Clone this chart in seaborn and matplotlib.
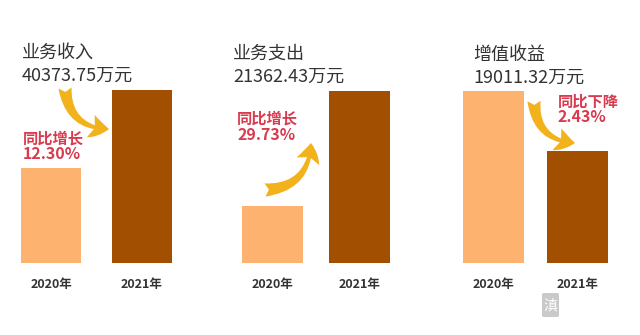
import matplotlib
matplotlib.use("Agg")
import matplotlib.pyplot as plt
import seaborn as sns
import pandas as pd
from matplotlib.patches import FancyArrowPatch, FancyBboxPatch

# ---- data ----
metrics = ["业务收入", "业务支出", "增值收益"]
totals = ["40373.75万元", "21362.43万元", "19011.32万元"]
change_labels = ["同比增长", "同比增长", "同比下降"]
change_values = ["12.30%", "29.73%", "2.43%"]
years = ["2020年", "2021年"]
bar_2020 = [95, 57, 172]   # relative bar heights as drawn
bar_2021 = [173, 172, 112]

# ---- style ----
sns.set_theme(style="white")
plt.rcParams["font.family"] = ["Noto Sans CJK SC", "DejaVu Sans"]

W, H = 640, 335
fig = plt.figure(figsize=(6.4, 3.35), dpi=100)
fig.patch.set_facecolor("white")

def fx(x):
    return x / W

def fy(y):
    return 1 - y / H

light = "#fdb36f"
dark = "#a24f02"
red = "#d93a4e"
arrow_c = "#f2b21c"
txt = "#333333"

# panel layouts (pixel): left, width of axes, bar width fraction
panels = [
    (5.5, 182, 0.66),
    (229.0, 174, 0.69),
    (451.5, 168, 0.72),
]
base_y, top_y = 263, 60

for i, (left, width, bw) in enumerate(panels):
    ax = fig.add_axes([fx(left), fy(base_y), width / W, (base_y - top_y) / H])
    df = pd.DataFrame({"year": years, "value": [bar_2020[i], bar_2021[i]]})
    sns.barplot(data=df, x="year", y="value", hue="year",
                palette=[light, dark], width=bw, ax=ax, legend=False,
                saturation=1, edgecolor="none")
    ax.set_xlim(-0.5, 1.5)
    ax.set_ylim(0, base_y - top_y)
    ax.set_xlabel("")
    ax.set_ylabel("")
    ax.set_yticks([])
    ax.tick_params(axis="x", length=0, pad=11)
    for lab in ax.get_xticklabels():
        lab.set_fontweight("bold")
        lab.set_fontsize(9)
        lab.set_color(txt)
    for s in ax.spines.values():
        s.set_visible(False)
    ax.patch.set_alpha(0)

# titles
title_pos = [(22, 53), (233, 54), (473, 55)]
for (x, y), m, t in zip(title_pos, metrics, totals):
    fig.text(fx(x), fy(y), m, fontsize=13, color=txt, va="center", ha="left")
    fig.text(fx(x), fy(y + 23), t, fontsize=13, color=txt, va="center", ha="left")

# change annotations
chg_pos = [(23, 139), (237, 119), (558, 102)]
for (x, y), l, v in zip(chg_pos, change_labels, change_values):
    fig.text(fx(x), fy(y), l, fontsize=11, color=red, fontweight="bold",
             va="center", ha="left")
    fig.text(fx(x), fy(y + 15.5), v, fontsize=11.5, color=red, fontweight="bold",
             va="center", ha="left")

# curved arrows
arrows = [((65, 88), (109, 129), 0.45),
          ((265, 190), (311, 143), 0.45),
          ((534, 101), (575, 143), 0.45)]
for (a, b, rad) in arrows:
    p = FancyArrowPatch((fx(a[0]), fy(a[1])), (fx(b[0]), fy(b[1])),
                        transform=fig.transFigure,
                        connectionstyle=f"arc3,rad={rad}",
                        arrowstyle="fancy,head_length=0.7,head_width=0.9,tail_width=0.5",
                        mutation_scale=19, color=arrow_c, lw=0,
                        shrinkA=0, shrinkB=0)
    fig.patches.append(p)

# watermark logo
wm = FancyBboxPatch((fx(542), fy(317)), 17 / W, 24 / H,
                    boxstyle="round,pad=0,rounding_size=0.004",
                    transform=fig.transFigure, color="#c9c9c9", lw=0)
fig.patches.append(wm)
fig.text(fx(550.5), fy(305), "滇", fontsize=10, color="white",
         ha="center", va="center")

fig.savefig("out.png", dpi=100, facecolor="white")
